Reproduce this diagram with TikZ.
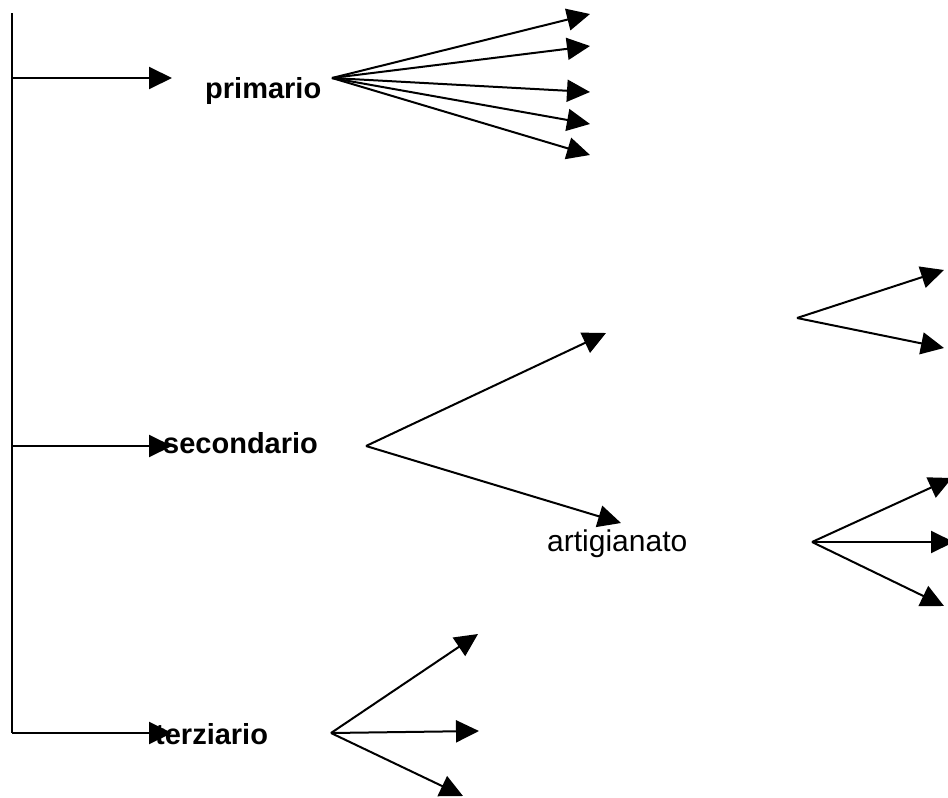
\documentclass[tikz,border=0pt]{standalone}
\usepackage{fontspec}
\setmainfont{Liberation Sans}
\usetikzlibrary{arrows.meta}
\begin{document}
\begin{tikzpicture}[x=1pt,y=-1pt,
  conn/.style={line width=2pt},
  arr/.style={conn,-{Triangle[length=23pt,width=22pt]}},
  lbl/.style={inner sep=0pt,anchor=base west,font=\fontsize{29}{34}\selectfont\bfseries},
  lblr/.style={inner sep=0pt,anchor=base west,font=\fontsize{30}{35}\selectfont}]
\useasboundingbox (0,0) rectangle (948,798);
% labels
\node[lbl] (prim) at (205,98) {primario};
\node[lbl] (sec) at (163,453) {secondario};
\node[lbl] (ter) at (155,744) {terziario};
\node[lblr] (art) at (547,551) {artigianato};
% trunk
\coordinate (top) at (12,13);
\coordinate (c1) at (12,78);
\coordinate (c2) at (12,446);
\coordinate (c3) at (12,733);
\coordinate (t1) at (172,78);
\coordinate (t2) at (172,446);
\coordinate (t3) at (172,733);
\draw[conn] (top) -- (c3);
\draw[arr] (c1) -- (t1);
\draw[arr] (c2) -- (t2);
\draw[arr] (c3) -- (t3);
% primario fan
\coordinate (po) at (332,78);
\coordinate (p1) at (590,14);
\coordinate (p2) at (590,46);
\coordinate (p3) at (590,92);
\coordinate (p4) at (590,124);
\coordinate (p5) at (590,155);
\foreach \t in {p1,p2,p3,p4,p5} \draw[arr] (po) -- (\t);
% secondario fan
\coordinate (so) at (366,446);
\coordinate (s1) at (606,333);
\coordinate (s2) at (621,523);
\draw[arr] (so) -- (s1);
\draw[arr] (so) -- (s2);
% upper right fan
\coordinate (uo) at (797,318);
\coordinate (u1) at (944,270);
\coordinate (u2) at (944,348);
\draw[arr] (uo) -- (u1);
\draw[arr] (uo) -- (u2);
% lower right fan
\coordinate (lo) at (812,542);
\coordinate (l1) at (952,478);
\coordinate (l2) at (954,542);
\coordinate (l3) at (944,606);
\draw[arr] (lo) -- (l1);
\draw[arr] (lo) -- (l2);
\draw[arr] (lo) -- (l3);
% terziario fan
\coordinate (to) at (331,733);
\coordinate (r1) at (478,634);
\coordinate (r2) at (479,731);
\coordinate (r3) at (463,796);
\draw[arr] (to) -- (r1);
\draw[arr] (to) -- (r2);
\draw[arr] (to) -- (r3);
\end{tikzpicture}
\end{document}
